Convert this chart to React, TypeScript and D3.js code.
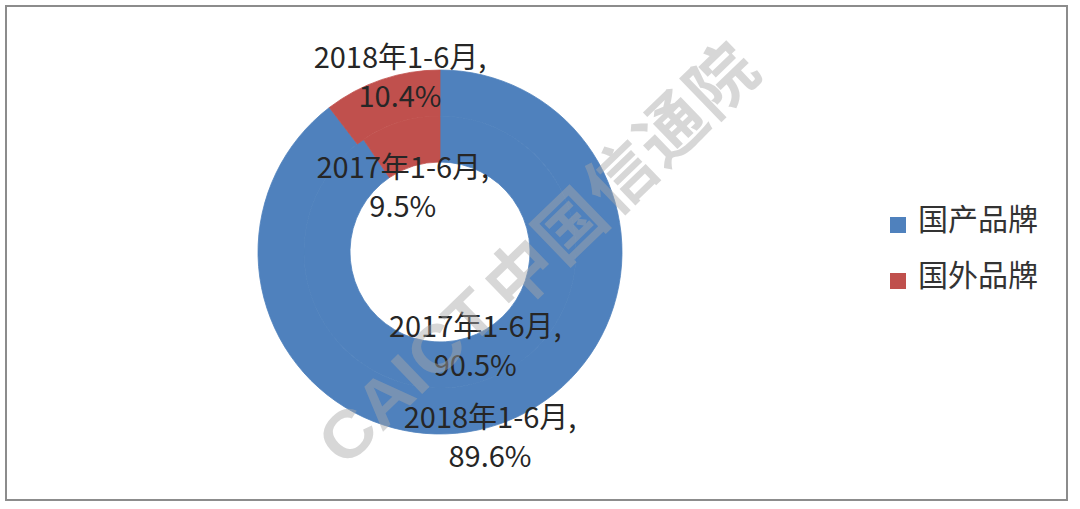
import React from "react";
import * as d3 from "d3";

// ---- data ----
const categories = ["国产品牌", "国外品牌"];
const seriesNames = ["2017年1-6月", "2018年1-6月"];
const values2017 = [90.5, 9.5];
const values2018 = [89.6, 10.4];
const colors = ["#4F81BD", "#C0504D"];

// label nudges (Excel moved labels off the slice centroid): [series][category] -> [dx, dy]
const labelNudges = [
  [[2, -23], [-4, 34]],
  [[-1, 25], [11, -33]],
];

const W = 1080;
const H = 509;
const CX = 440;
const CY = 252;
const R_HOLE = 90;
const R_SPLIT = 136;
const R_OUTER = 182;

const labelFont = "'Noto Sans CJK SC', 'Noto Sans', sans-serif";

export default function App() {
  const pie = d3
    .pie<number>()
    .sort(null)
    .value((d) => d)
    .startAngle(0)
    .endAngle(2 * Math.PI);

  const rings = [
    { name: seriesNames[0], values: values2017, inner: R_HOLE, outer: R_SPLIT },
    { name: seriesNames[1], values: values2018, inner: R_SPLIT, outer: R_OUTER },
  ];

  const fmt = d3.format(".1f");

  return (
    <svg
      width={W}
      height={H}
      style={{ position: "absolute", left: 0, top: 0, display: "block", background: "#fff" }}
    >
      <rect x={0} y={0} width={W} height={H} fill="#ffffff" />
      <rect x={6} y={6} width={1061} height={494} fill="#ffffff" stroke="#8c8c8c" strokeWidth={2} />

      <g transform={`translate(${CX},${CY})`}>
        {rings.map((ring) => {
          const arc = d3.arc<d3.PieArcDatum<number>>().innerRadius(ring.inner).outerRadius(ring.outer);
          return (
            <g key={ring.name}>
              {pie(ring.values).map((a, i) => (
                <path key={i} d={arc(a) || ""} fill={colors[i]} stroke={colors[i]} strokeWidth={0.8} />
              ))}
            </g>
          );
        })}
        {rings.map((ring, ri) => {
          const arc = d3.arc<d3.PieArcDatum<number>>().innerRadius(ring.inner).outerRadius(ring.outer);
          return (
            <g key={"l" + ring.name}>
              {pie(ring.values).map((a, i) => {
                const [x, y] = arc.centroid(a);
                const [dx, dy] = labelNudges[ri][i];
                return (
                  <text
                    key={i}
                    x={x + dx}
                    y={y + dy}
                    textAnchor="middle"
                    fontFamily={labelFont}
                    fontSize={29}
                    fill="#262626"
                  >
                    <tspan x={x + dx}>{ring.name + ","}</tspan>
                    <tspan x={x + dx} dy={39}>
                      {fmt(a.data) + "%"}
                    </tspan>
                  </text>
                );
              })}
            </g>
          );
        })}
      </g>

      {/* legend */}
      {categories.map((c, i) => (
        <g key={c} transform={`translate(890,${217 + i * 56})`}>
          <rect x={0} y={0} width={16} height={16} fill={colors[i]} />
          <text x={28} y={13} fontFamily={labelFont} fontSize={30} fill="#333333">
            {c}
          </text>
        </g>
      ))}

      {/* watermark */}
      <g transform={`translate(533,255) rotate(-44)`} opacity={0.45} fill="#a8a8a8">
        <text
          x={-284}
          y={0}
          dominantBaseline="central"
          fontFamily="'Liberation Sans', Arial, sans-serif"
          fontWeight={700}
          fontSize={66}
          textLength={218}
          lengthAdjust="spacingAndGlyphs"
        >
          CAICT
        </text>
        <text
          x={-57}
          y={0}
          dominantBaseline="central"
          fontFamily="'Noto Sans CJK SC', sans-serif"
          fontWeight={700}
          fontSize={68}
          letterSpacing={2}
        >
          中国信通院
        </text>
      </g>
    </svg>
  );
}
